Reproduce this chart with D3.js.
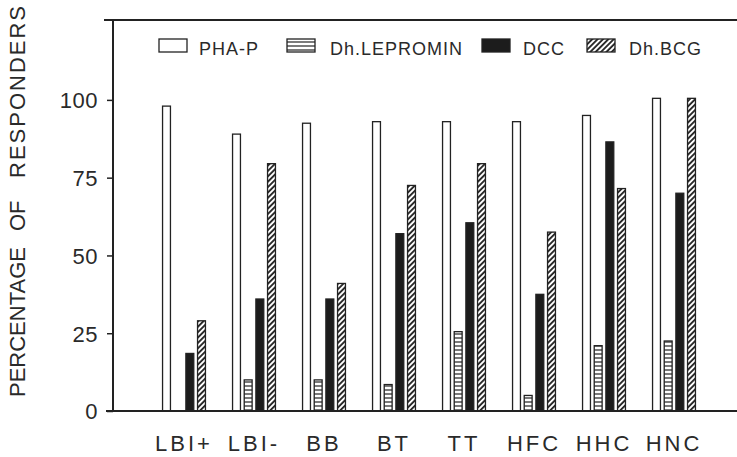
<!DOCTYPE html>
<html>
<head>
<meta charset="utf-8">
<script src="https://cdn.jsdelivr.net/npm/d3@7"></script>
<style>
  body { margin: 0; background: #fff; }
  text { font-family: "Liberation Sans", Arial, sans-serif; fill: #2a2a2a; }
</style>
</head>
<body>
<div id="chart"></div>
<script>
// data
const groups = ["LBI+", "LBI-", "BB", "BT", "TT", "HFC", "HHC", "HNC"];
const seriesKeys = ["PHA-P", "Dh.LEPROMIN", "DCC", "Dh.BCG"];
const phaP = [98, 89, 92.5, 93, 93, 93, 95, 100.5];
const lepromin = [0, 10, 10, 8.5, 25.5, 5, 21, 22.5];
const dcc = [18.5, 36, 36, 57, 60.5, 37.5, 86.5, 70];
const bcg = [29, 79.5, 41, 72.5, 79.5, 57.5, 71.5, 100.5];
const yTicks = [0, 25, 50, 75, 100];

const seriesValues = [phaP, lepromin, dcc, bcg];
const data = groups.map((g, i) => ({
  group: g,
  values: seriesKeys.map((k, j) => ({ key: k, value: seriesValues[j][i] }))
}));

const W = 737, H = 457;
const ink = "#222";

const svg = d3.select("#chart")
  .append("svg")
  .attr("width", W)
  .attr("height", H);

// patterns for the hatched series
const defs = svg.append("defs");
const hp = defs.append("pattern")
  .attr("id", "hlines")
  .attr("patternUnits", "userSpaceOnUse")
  .attr("width", 4).attr("height", 4);
hp.append("rect").attr("width", 4).attr("height", 4).attr("fill", "#fff");
hp.append("line").attr("x1", 0).attr("x2", 4).attr("y1", 2).attr("y2", 2)
  .attr("stroke", ink).attr("stroke-width", 1.2);

const dp = defs.append("pattern")
  .attr("id", "diag")
  .attr("patternUnits", "userSpaceOnUse")
  .attr("width", 3.8).attr("height", 3.8)
  .attr("patternTransform", "rotate(45)");
dp.append("rect").attr("width", 3.8).attr("height", 3.8).attr("fill", "#fff");
dp.append("line").attr("x1", 1.9).attr("x2", 1.9).attr("y1", 0).attr("y2", 3.8)
  .attr("stroke", "#111").attr("stroke-width", 1.7);

const fills = {
  "PHA-P": "#fff",
  "Dh.LEPROMIN": "url(#hlines)",
  "DCC": "#1c1c1c",
  "Dh.BCG": "url(#diag)"
};

// scales
const y = d3.scaleLinear().domain([0, 126]).range([411, 19]);
const x0 = d3.scaleBand()
  .domain(groups)
  .range([149, 709])
  .paddingInner(0.37)
  .paddingOuter(0.185);
const x1 = d3.scaleBand()
  .domain(seriesKeys)
  .range([0, x0.bandwidth()])
  .paddingInner(0.22);

const axisLeftX = 113;

// y axis
const yAxis = svg.append("g")
  .attr("transform", `translate(${axisLeftX},0)`)
  .call(d3.axisLeft(y).tickValues(yTicks).tickSize(6).tickPadding(9));
yAxis.select(".domain").remove();
yAxis.selectAll(".tick line").attr("stroke", ink).attr("stroke-width", 1.5);
yAxis.selectAll(".tick text")
  .style("font-size", "22px")
  .style("letter-spacing", "0.5px")
  .attr("dy", "0.36em")
  .style("fill", "#2a2a2a");

// frame lines: left axis, top, bottom
svg.append("line")
  .attr("x1", axisLeftX).attr("x2", axisLeftX)
  .attr("y1", y(126) + 1).attr("y2", y(0))
  .attr("stroke", ink).attr("stroke-width", 2);
svg.append("line")
  .attr("x1", 104).attr("x2", W)
  .attr("y1", y(126) + 1).attr("y2", y(126) + 1)
  .attr("stroke", ink).attr("stroke-width", 2);

// bars
const groupG = svg.append("g")
  .selectAll("g")
  .data(data)
  .join("g")
  .attr("transform", d => `translate(${x0(d.group)},0)`);

groupG.selectAll("rect")
  .data(d => d.values.filter(v => v.value > 0))
  .join("rect")
  .attr("x", d => x1(d.key) + 0.6)
  .attr("y", d => y(d.value))
  .attr("width", x1.bandwidth() - 1.2)
  .attr("height", d => y(0) - y(d.value))
  .attr("fill", d => fills[d.key])
  .attr("stroke", ink)
  .attr("stroke-width", 1.3);

// x axis
const xAxis = svg.append("g")
  .attr("transform", `translate(0,${y(0)})`)
  .call(d3.axisBottom(x0).tickSize(0).tickPadding(0));
xAxis.select(".domain").remove();
xAxis.selectAll(".tick text")
  .attr("y", 40)
  .attr("dy", 0)
  .style("font-size", "22px")
  .style("letter-spacing", "3px")
  .style("fill", "#2a2a2a");

svg.append("line")
  .attr("x1", 106).attr("x2", W)
  .attr("y1", y(0)).attr("y2", y(0))
  .attr("stroke", ink).attr("stroke-width", 2);

// y axis title, words placed with the wide gaps of the original
const titleWords = [
  { t: "PERCENTAGE", at: 0, ls: 0 },
  { t: "OF", at: 166, ls: 0 },
  { t: "RESPONDERS", at: 219, ls: 2 }
];
svg.append("g")
  .attr("transform", "translate(25,397) rotate(-90)")
  .selectAll("text")
  .data(titleWords)
  .join("text")
  .attr("x", d => d.at)
  .attr("y", 0)
  .style("letter-spacing", d => d.ls + "px")
  .style("font-size", "22px")
  .text(d => d.t);

// legend
const legendData = [
  { key: "PHA-P", bx: 159, tx: 199 },
  { key: "Dh.LEPROMIN", bx: 287, tx: 330 },
  { key: "DCC", bx: 482, tx: 523 },
  { key: "Dh.BCG", bx: 587, tx: 629 }
];
const legend = svg.append("g").attr("class", "legend");
legend.selectAll("rect")
  .data(legendData)
  .join("rect")
  .attr("x", d => d.bx)
  .attr("y", 39)
  .attr("width", 28)
  .attr("height", 13)
  .attr("fill", d => fills[d.key])
  .attr("stroke", ink)
  .attr("stroke-width", 1.3);
legend.selectAll("text")
  .data(legendData)
  .join("text")
  .attr("x", d => d.tx)
  .attr("y", 55)
  .style("font-size", "18px")
  .style("letter-spacing", "1px")
  .text(d => d.key);
</script>
</body>
</html>
